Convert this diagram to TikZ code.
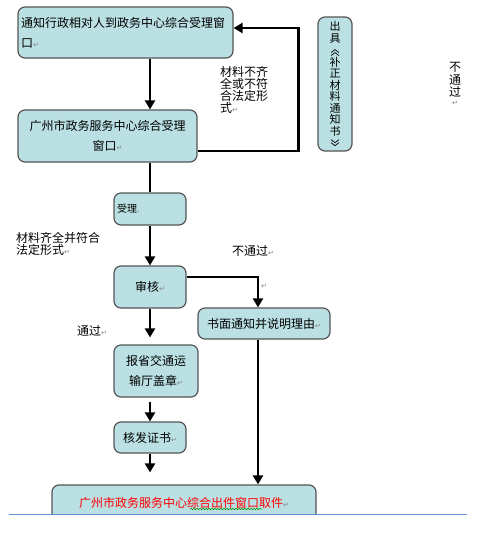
\documentclass[tikz,border=0pt]{standalone}
\usepackage{fontspec}
\setmainfont{Noto Sans CJK SC}
\newfontfamily\symfont{DejaVu Sans}
\usepackage{xcolor}
\usepackage{tikz}
\usetikzlibrary{shapes,arrows.meta,positioning,calc,decorations.pathmorphing}

\definecolor{boxfill}{RGB}{186,224,227}
\definecolor{boxline}{RGB}{85,85,85}
\definecolor{rulerblue}{RGB}{100,145,215}
\newcommand{\pmark}{{\symfont\color{gray}\fontsize{7pt}{7pt}\selectfont ↵}}
% vertical double angle brackets
\newcommand{\upbrack}{\tikz[baseline=-1pt, x=1pt, y=1pt]{\draw[black, line width=0.7pt, sharp corners] (0,0) -- (4,3) -- (8,0) (0,-3) -- (4,0) -- (8,-3);}}
\newcommand{\downbrack}{\tikz[baseline=-1pt, x=1pt, y=1pt]{\draw[black, line width=0.7pt, sharp corners] (0,3) -- (4,0) -- (8,3) (0,6) -- (4,3) -- (8,6);}}

\begin{document}
\begin{tikzpicture}[
    node distance=2cm,
    block/.style={rectangle, draw=boxline, line width=1.2pt, fill=boxfill, rounded corners=7pt, font=\fontsize{12pt}{20pt}\selectfont, inner sep=2pt},
    line/.style={draw, line width=2.6pt, -{Triangle[length=9pt,width=10pt]}},
    plain/.style={draw, line width=2.6pt},
    note/.style={font=\fontsize{12pt}{12pt}\selectfont, align=left, inner sep=0pt}
]
\useasboundingbox (0,0) rectangle (477pt,-541pt);

% Notify applicant
\node [block, minimum width=215pt, minimum height=51pt, text width=209pt, align=left] (notify) at (125.5pt,-32.5pt) {通知行政相对人到政务中心综合受理窗\\口\pmark};

% Acceptance window
\node [block, node distance=103.5pt, below of=notify, xshift=-18pt, minimum width=179pt, minimum height=52pt, align=center] (window) {广州市政务服务中心综合受理\\窗口\pmark};

% Accepted
\node [block, node distance=73pt, below of=window, xshift=42.5pt, minimum width=72pt, minimum height=32pt, text width=66pt, align=left, font=\fontsize{10pt}{12pt}\selectfont] (accept) {受理{\color{gray}.}};

% Review
\node [block, node distance=78pt, below of=accept, minimum width=72pt, minimum height=42pt] (review) {审核\pmark};

% Written refusal
\node [block, node distance=114pt, right of=review, yshift=-36.5pt, minimum width=132pt, minimum height=31pt] (refuse) {书面通知并说明理由\pmark};

% Province stamp
\node [block, node distance=84pt, below of=review, xshift=6pt, minimum width=84pt, minimum height=52pt, align=center] (stamp) {报省交通运\\输厅盖章\pmark};

% Certificate
\node [block, node distance=66.5pt, below of=stamp, xshift=-6pt, minimum width=72pt, minimum height=31pt] (issue) {核发证书\pmark};

% Supplement notice
\node [block, node distance=209.5pt, right of=notify, yshift=-51.5pt, minimum width=34pt, minimum height=134pt, align=center, inner sep=1pt, font=\fontsize{11pt}{11.5pt}\selectfont] (supplement) {出\\具\\\upbrack\\补\\正\\材\\料\\通\\知\\书\\\downbrack};

% Pick-up window, cut by the page rule
\begin{scope}
\clip (0,0) rectangle (477pt,-513.5pt);
\node [block, node distance=65.5pt, below of=issue, xshift=34pt, minimum width=264pt, minimum height=36pt, text=red] (pickup) {广州市政务服务中心综合出件窗口取件\pmark};
\draw [green!55!black, line width=0.5pt, decorate, decoration={snake, amplitude=0.8pt, segment length=3pt}] (190pt,-509pt) -- (262pt,-509pt);
\end{scope}
\draw [rulerblue, line width=1pt] (9pt,-514pt) -- (467pt,-514pt);

% Labels
\node [note, anchor=north west] (incomplete) at (220pt,-66pt) {材料不齐\\全或不符\\合法定形\\式\pmark};
\node [note, anchor=north west] (complete) at (16pt,-232pt) {材料齐全并符合\\法定形式\pmark};
\node [note, anchor=north west] (fail) at (232pt,-245pt) {不通过\pmark};
\node [note, anchor=north west] (pass) at (77pt,-325pt) {通过\pmark};
\node [note, anchor=north west] (failmark) at (261pt,-284pt) {\pmark};
\node [note, align=center, font=\fontsize{12pt}{12.5pt}\selectfont] (nopass) at (455pt,-84pt) {不\\通\\过\\[-4pt]\pmark};

% Connections
\coordinate (back) at ($(window.east)+(101pt,-15pt)$);
\coordinate (drop) at ($(refuse.south)+(-6pt,0)$);
\path [line] (notify.south -| accept) -- (window.north -| accept);
\path [plain] (window.south -| accept) -- (accept.north);
\path [line] ($(window.east)+(0,-15pt)$) -- (back) |- ($(notify.east)+(0,4.5pt)$);
\path [line] (accept) -- (review);
\path [line] ($(review.east)+(0,10pt)$) -| ($(refuse.north)+(-6pt,0)$);
\path [line] (drop) -- (drop |- pickup.north);
\path [line] (review) -- ($(review.south |- stamp.north)+(0,7pt)$);
\path [line] ($(stamp.south -| issue)+(0,-4pt)$) -- (issue.north);
\path [line] (issue) -- ($(issue.south |- pickup.north)+(0,12pt)$);

\end{tikzpicture}
\end{document}
